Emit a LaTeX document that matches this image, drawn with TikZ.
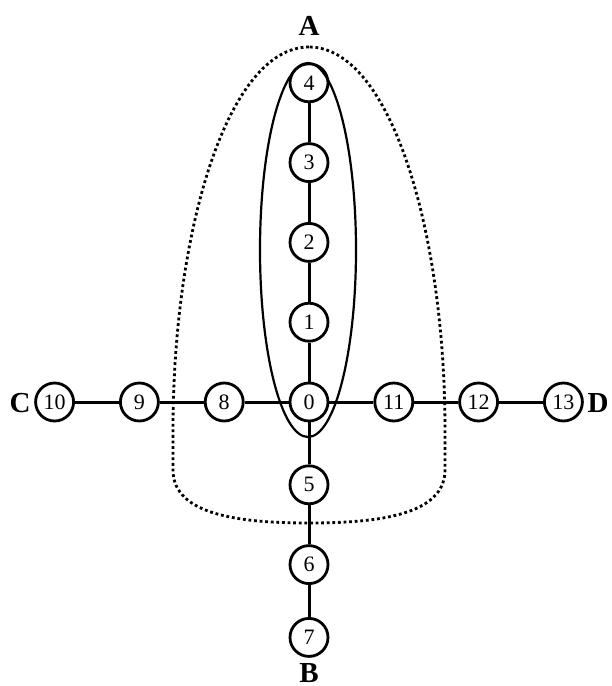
\documentclass[tikz,border=0pt]{standalone}
\usepackage{fontspec}
\setmainfont{Liberation Serif}
\usetikzlibrary{positioning}

\begin{document}
\begin{tikzpicture}[
  x=0.5pt, y=-0.5pt,
  node distance=19.5pt and 22pt,
  vertex/.style={draw, circle, line width=1.4pt, minimum size=19pt, inner sep=0pt, font=\fontsize{11}{13}\selectfont},
  term/.style={inner sep=0pt, font=\fontsize{14.5}{16}\selectfont\bfseries},
  edge/.style={line width=1.5pt},
  region/.style={line width=1.4pt, dash pattern=on 1.4pt off 1.4pt}
]
\useasboundingbox (0,0) rectangle (611,686);

% centre and the four branches
\node[vertex] (n0) at (309,402) {0};
\node[vertex, above=of n0] (n1) {1};
\node[vertex, above=of n1] (n2) {2};
\node[vertex, above=of n2] (n3) {3};
\node[vertex, above=of n3] (n4) {4};
\node[vertex, below=21pt of n0] (n5) {5};
\node[vertex, below=of n5] (n6) {6};
\node[vertex, below=16pt of n6] (n7) {7};
\node[vertex, left=of n0] (n8) {8};
\node[vertex, left=of n8] (n9) {9};
\node[vertex, left=of n9] (n10) {10};
\node[vertex, right=of n0] (n11) {11};
\node[vertex, right=of n11] (n12) {12};
\node[vertex, right=of n12] (n13) {13};

% end labels
\node[term] (A) at (309,26) {A};
\node[term] (B) at (309,673) {B};
\node[term] (C) at (20,403) {C};
\node[term] (D) at (598,403) {D};

\foreach \a/\b in {n0/n1, n1/n2, n2/n3, n3/n4, n0/n5, n5/n6, n6/n7,
                   n0/n8, n8/n9, n9/n10, n0/n11, n11/n12, n12/n13}
  \draw[edge] (\a) -- (\b);

% regions
\draw[line width=1.1pt] (308,250) ellipse [x radius=24pt, y radius=93.5pt];
\draw[region] (309,47) .. controls (228,47) and (173,230) .. (173,430)
  -- (173,470) .. controls (173,515) and (240,523) .. (309,523)
  .. controls (378,523) and (445,515) .. (445,470)
  -- (445,430) .. controls (445,230) and (390,47) .. (309,47);
\end{tikzpicture}
\end{document}
